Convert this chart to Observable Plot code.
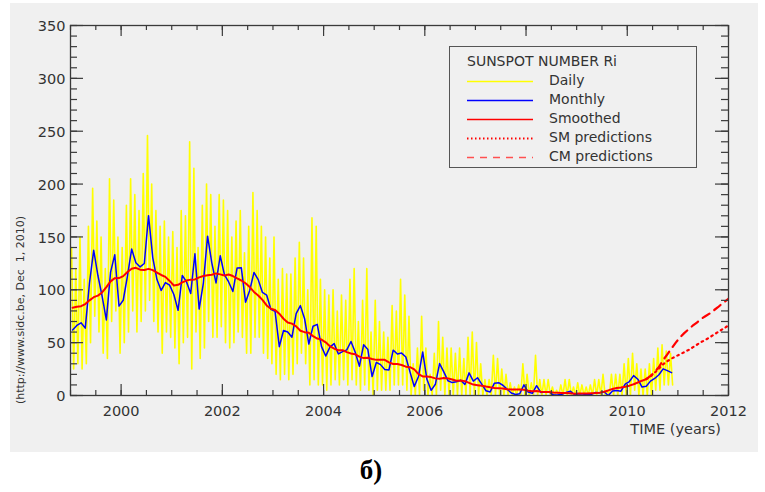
<!DOCTYPE html>
<html>
<head>
<meta charset="utf-8">
<script src="https://cdn.jsdelivr.net/npm/d3@7"></script>
<script src="https://cdn.jsdelivr.net/npm/@observablehq/plot@0.6"></script>
<style>
  html, body { margin: 0; padding: 0; background: #fff; }
  #wrap { position: relative; width: 765px; height: 492px; overflow: hidden; background: #fff; font-family: "DejaVu Sans", sans-serif; }
  #panel { position: absolute; left: 10px; top: 3px; width: 748px; height: 449px; background: #f0f0f0; }
  #chart { position: absolute; left: 0; top: 0; }
  #ylab { position: absolute; left: 20px; top: 310px; transform: translate(-50%, -50%) rotate(-90deg); white-space: pre; font-size: 11px; color: #333; }
  #xlab { position: absolute; right: 44px; top: 421px; font-size: 14.5px; color: #333; white-space: pre; }
  #legend { position: absolute; left: 449px; top: 46px; width: 248px; height: 122px; box-sizing: border-box; border: 1px solid #555; }
  .lrow { position: absolute; left: 0; height: 18px; width: 246px; }
  .lrow svg { position: absolute; left: 17px; top: 0; }
  .lrow span { position: absolute; left: 99px; top: 0; font-size: 14px; line-height: 18px; color: #333; white-space: pre; }
  #ltitle { position: absolute; left: 17px; top: 5px; font-size: 14px; line-height: 18px; color: #333; white-space: pre; }
  #caption { position: absolute; left: 371px; top: 470px; transform: translate(-50%, -50%); font-family: "Liberation Serif", serif; font-weight: bold; font-size: 27px; color: #000; }
</style>
</head>
<body>
<div id="wrap">
  <div id="panel"></div>
  <div id="chart"></div>
  <div id="ylab"></div>
  <div id="xlab"></div>
  <div id="legend"></div>
  <div id="caption"></div>
</div>
<script>
// ---- Data ----
const startYear = 1999;
const xDomain = [1999, 2012];
const yDomain = [0, 350];

// Monthly mean sunspot number, Jan 1999 .. Nov 2010
const monthly = [
  62.0, 66.3, 68.8, 63.7, 106.4, 137.4, 113.5, 93.7, 71.5, 116.7, 133.2, 84.6,
  90.1, 112.9, 138.5, 125.5, 121.6, 124.9, 170.1, 130.5, 109.7, 99.4, 106.8, 104.4,
  95.6, 80.6, 113.5, 107.7, 96.6, 134.0, 81.8, 106.4, 150.7, 125.5, 106.5, 132.2,
  114.1, 107.4, 98.4, 120.7, 120.8, 88.3, 99.6, 116.4, 109.6, 97.5, 95.0, 81.6,
  79.5, 46.2, 61.5, 60.0, 55.2, 77.4, 85.0, 72.7, 48.7, 65.5, 67.3, 46.5,
  37.3, 45.8, 49.1, 39.3, 41.5, 43.2, 51.1, 40.9, 27.7, 48.0, 43.5, 17.9,
  31.3, 29.2, 24.5, 24.2, 42.9, 39.3, 40.1, 36.4, 22.1, 8.5, 18.0, 41.2,
  15.3, 4.9, 10.6, 30.2, 22.3, 13.9, 12.2, 12.9, 14.4, 10.5, 21.4, 13.6,
  16.8, 10.7, 4.5, 3.4, 11.7, 12.1, 9.7, 6.0, 2.4, 0.9, 1.7, 10.1,
  3.3, 2.1, 9.3, 2.9, 3.2, 3.4, 0.5, 0.5, 1.1, 2.9, 4.1, 0.8,
  1.5, 1.4, 0.7, 1.2, 2.9, 2.6, 3.5, 0.0, 4.3, 4.8, 4.1, 10.8,
  13.2, 18.8, 15.4, 8.0, 8.7, 13.6, 16.1, 19.6, 25.2, 23.5, 21.6
];

// 13-month smoothed sunspot number, Jan 1999 .. May 2010
const smoothed = [
  83.0, 84.0, 84.5, 86.5, 90.0, 93.0, 94.5, 97.5, 102.5, 108.0, 111.0, 111.1,
  112.9, 116.8, 119.9, 120.8, 119.0, 118.7, 119.8, 118.6, 116.3, 114.0, 112.2, 108.4,
  104.1, 104.7, 107.0, 108.7, 109.6, 109.8, 111.7, 113.0, 113.7, 114.3, 115.5, 114.6,
  113.5, 114.5, 113.0, 110.8, 108.8, 106.2, 102.6, 98.0, 94.6, 90.5, 85.2, 82.0,
  80.9, 77.4, 72.6, 69.1, 68.0, 65.4, 61.3, 59.9, 59.3, 56.2, 53.9, 52.9,
  50.3, 46.6, 44.3, 42.8, 42.9, 41.0, 39.8, 39.0, 36.8, 35.4, 35.7, 34.6,
  33.7, 33.7, 33.8, 31.4, 29.8, 29.7, 28.9, 27.3, 26.8, 24.8, 20.2, 18.0,
  18.0, 17.4, 16.2, 15.9, 16.5, 16.2, 15.2, 13.9, 14.1, 13.6, 11.9, 10.3,
  9.8, 9.3, 8.5, 7.8, 7.2, 6.9, 6.6, 6.0, 5.6, 5.6, 5.7, 5.5,
  4.6, 4.0, 4.2, 3.6, 3.4, 3.2, 2.8, 2.7, 2.3, 2.3, 2.2, 1.7,
  1.8, 1.9, 2.0, 2.2, 2.3, 2.7, 3.6, 4.8, 6.2, 7.1, 7.6, 8.3,
  9.3, 10.6, 12.3, 14.0, 15.5
];

// Predictions, Jun 2010 .. Jan 2012
const predStartIndex = 137; // month index of Jun 2010 from Jan 1999
const smPred = [18, 21.5, 25.5, 29.5, 32.5, 35, 37, 39, 41, 43, 45.5, 48, 50.5, 52.5, 55, 57.5, 60, 62.5, 65, 67.5];
const cmPred = [18.5, 22, 27, 33.5, 39, 44.5, 50, 55, 59, 62.5, 66, 69, 72.5, 75, 77.5, 80.5, 83.5, 87, 90, 93];

// Daily values: per-month high and low, Jan 1999 .. Nov 2010
const dailyHigh = [
  140, 120, 150, 110, 160, 196, 165, 150, 120, 205, 185, 150,
  140, 180, 205, 190, 175, 210, 246, 200, 175, 160, 165, 150,
  155, 140, 175, 170, 240, 215, 140, 180, 200, 190, 160, 190,
  185, 175, 150, 165, 175, 135, 160, 192, 175, 160, 150, 130,
  150, 110, 120, 115, 115, 130, 145, 130, 100, 168, 160, 110,
  100, 95, 100, 80, 95, 90, 110, 120, 70, 90, 120, 60,
  90, 70, 60, 55, 85, 80, 110, 95, 75, 30, 45, 75,
  45, 20, 40, 70, 55, 45, 45, 40, 45, 35, 55, 60,
  50, 30, 15, 15, 38, 35, 25, 20, 12, 8, 10, 30,
  20, 12, 38, 15, 15, 15, 8, 5, 10, 15, 15, 8,
  12, 10, 8, 10, 15, 15, 20, 5, 20, 20, 20, 30,
  35, 40, 30, 25, 25, 30, 35, 45, 48, 42, 40
];
const dailyLow = [
  25, 30, 25, 30, 50, 75, 60, 40, 35, 70, 80, 40,
  50, 60, 80, 60, 70, 80, 90, 70, 60, 40, 60, 55,
  45, 30, 50, 55, 25, 60, 35, 45, 70, 55, 55, 65,
  50, 45, 50, 60, 55, 40, 40, 55, 55, 40, 35, 30,
  20, 15, 20, 15, 20, 30, 40, 30, 10, 15, 10, 10,
  5, 10, 15, 10, 15, 10, 15, 10, 5, 10, 5, 0,
  5, 5, 5, 5, 10, 10, 10, 5, 0, 0, 0, 5,
  0, 0, 0, 5, 0, 0, 0, 0, 0, 0, 0, 0,
  0, 0, 0, 0, 0, 0, 0, 0, 0, 0, 0, 0,
  0, 0, 0, 0, 0, 0, 0, 0, 0, 0, 0, 0,
  0, 0, 0, 0, 0, 0, 0, 0, 0, 0, 0, 0,
  0, 5, 0, 0, 0, 0, 5, 5, 10, 10, 10
];

// Axis ticks
const xMajorTicks = [2000, 2002, 2004, 2006, 2008, 2010, 2012];
const xMinorTicks = d3.range(1999, 2012.01, 0.5);
const yMajorTicks = [0, 50, 100, 150, 200, 250, 300, 350];
const yMinorTicks = d3.range(0, 351, 10);

// Texts
const yLabel = "(http://www.sidc.be, Dec  1, 2010)";
const xLabel = "TIME (years)";
const legendTitle = "SUNSPOT NUMBER Ri";
const legendItems = [
  {label: "Daily", color: "#ffff00", dash: null, width: 1.5},
  {label: "Monthly", color: "#0000ff", dash: null, width: 1.5},
  {label: "Smoothed", color: "#ff0000", dash: null, width: 1.5},
  {label: "SM predictions", color: "#ff0000", dash: "1.5,2.5", width: 2},
  {label: "CM predictions", color: "#ff5050", dash: "7,6", width: 1.5}
];
const captionText = "б)";

// ---- Build tables ----
const t = (i, f) => startYear + (i + f) / 12;
const dailyPts = [];
dailyHigh.forEach((h, i) => {
  dailyPts.push({t: t(i, 0.25), v: h});
  dailyPts.push({t: t(i, 0.75), v: dailyLow[i]});
});
const monthlyPts = monthly.map((v, i) => ({t: t(i, 0.5), v}));
const smoothPts = smoothed.map((v, i) => ({t: t(i, 0.5), v}));
const lastSm = smoothPts[smoothPts.length - 1];
const smPts = [lastSm, ...smPred.map((v, k) => ({t: t(predStartIndex + k, 0.5), v}))];
const cmPts = [lastSm, ...cmPred.map((v, k) => ({t: t(predStartIndex + k, 0.5), v}))];

const axisColor = "#3a3a3a";
const px = 1 / 1.057; // y units per pixel (approx.)
const xu = 1 / 50.6;  // x units per pixel (approx.)

const plot = Plot.plot({
  width: 765,
  height: 452,
  marginLeft: 70,
  marginRight: 37,
  marginTop: 25,
  marginBottom: 57,
  x: {domain: xDomain, axis: null},
  y: {domain: yDomain, axis: null},
  style: {background: "transparent", fontFamily: "DejaVu Sans, sans-serif", fontSize: "14.5px", color: "#333", overflow: "visible"},
  marks: [
    Plot.line(dailyPts, {x: "t", y: "v", stroke: "#ffff00", strokeWidth: 1.6, clip: true}),
    Plot.line(monthlyPts, {x: "t", y: "v", stroke: "#0000ff", strokeWidth: 1.5, clip: true}),
    Plot.line(smoothPts, {x: "t", y: "v", stroke: "#ff0000", strokeWidth: 2, clip: true}),
    Plot.line(smPts, {x: "t", y: "v", stroke: "#ff0000", strokeWidth: 2.2, strokeDasharray: "1.6,4", clip: true}),
    Plot.line(cmPts, {x: "t", y: "v", stroke: "#ff0000", strokeWidth: 2.2, strokeDasharray: "8,6", clip: true}),
    Plot.frame({stroke: axisColor, strokeWidth: 1.3}),
    // bottom ticks
    Plot.ruleX(xMinorTicks, {x: d => d, y1: 0, y2: 5 * px, stroke: axisColor, strokeWidth: 1.2}),
    Plot.ruleX(xMajorTicks, {x: d => d, y1: 0, y2: 11 * px, stroke: axisColor, strokeWidth: 1.2}),
    // top ticks
    Plot.ruleX(xMinorTicks, {x: d => d, y1: 350, y2: 350 - 5 * px, stroke: axisColor, strokeWidth: 1.2}),
    Plot.ruleX(xMajorTicks, {x: d => d, y1: 350, y2: 350 - 11 * px, stroke: axisColor, strokeWidth: 1.2}),
    // left ticks
    Plot.ruleY(yMinorTicks, {y: d => d, x1: 1999, x2: 1999 + 7 * xu, stroke: axisColor, strokeWidth: 1.2}),
    Plot.ruleY(yMajorTicks, {y: d => d, x1: 1999, x2: 1999 + 13 * xu, stroke: axisColor, strokeWidth: 1.2}),
    // right ticks
    Plot.ruleY(yMinorTicks, {y: d => d, x1: 2012, x2: 2012 - 7 * xu, stroke: axisColor, strokeWidth: 1.2}),
    Plot.ruleY(yMajorTicks, {y: d => d, x1: 2012, x2: 2012 - 13 * xu, stroke: axisColor, strokeWidth: 1.2}),
    // tick labels
    Plot.text(xMajorTicks, {x: d => d, y: 0, dy: 16, text: d => String(d), fill: "#333", fontSize: 14.5}),
    Plot.text(yMajorTicks, {x: 1999, y: d => d, dx: -5, dy: 1, text: d => String(d), textAnchor: "end", fill: "#333", fontSize: 14.5})
  ]
});
document.getElementById("chart").appendChild(plot);

document.getElementById("ylab").textContent = yLabel;
document.getElementById("xlab").textContent = xLabel;
document.getElementById("caption").textContent = captionText;

const legend = document.getElementById("legend");
const title = document.createElement("div");
title.id = "ltitle";
title.textContent = legendTitle;
legend.appendChild(title);
legendItems.forEach((it, k) => {
  const row = document.createElement("div");
  row.className = "lrow";
  row.style.top = (24 + k * 19) + "px";
  const ns = "http://www.w3.org/2000/svg";
  const s = document.createElementNS(ns, "svg");
  s.setAttribute("width", 66); s.setAttribute("height", 18);
  const ln = document.createElementNS(ns, "line");
  ln.setAttribute("x1", 0); ln.setAttribute("x2", 66);
  ln.setAttribute("y1", 10.5); ln.setAttribute("y2", 10.5);
  ln.setAttribute("stroke", it.color);
  ln.setAttribute("stroke-width", it.width);
  if (it.dash) ln.setAttribute("stroke-dasharray", it.dash);
  s.appendChild(ln);
  row.appendChild(s);
  const sp = document.createElement("span");
  sp.textContent = it.label;
  row.appendChild(sp);
  legend.appendChild(row);
});
</script>
</body>
</html>
